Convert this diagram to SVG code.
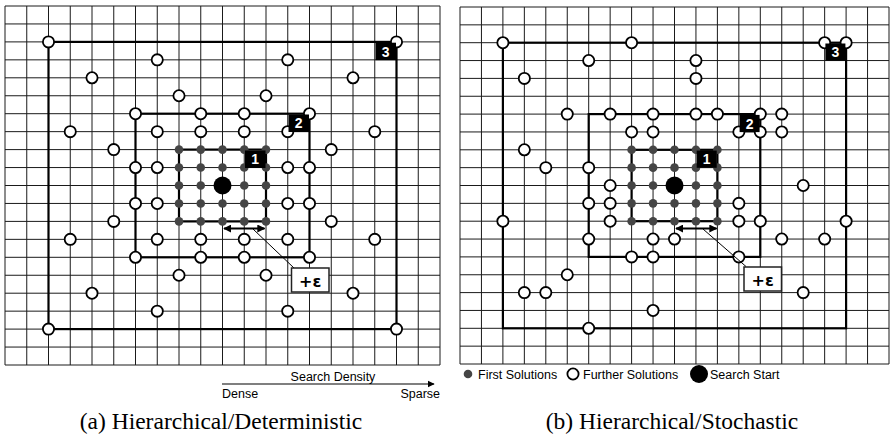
<svg xmlns="http://www.w3.org/2000/svg" width="892" height="439" viewBox="0 0 892 439">
<style>
.grid{fill:none;stroke:#1a1a1a;stroke-width:1}
.box{fill:none;stroke:#000;stroke-width:2.2}
.open{fill:#fff;stroke:#000;stroke-width:1.8}
.first{fill:#454545}
.start{fill:#000}
.lbl rect{fill:#000}
.lbl text{fill:#fff;font-family:"Liberation Sans",Arial,sans-serif;font-weight:bold;font-size:14px;text-anchor:middle}
.eps rect{fill:#fff;stroke:#222;stroke-width:1.5}
.eps text{fill:#000;font-family:"DejaVu Sans","Liberation Sans",sans-serif;font-weight:bold;font-size:16px;text-anchor:middle}
.lead{stroke:#000;stroke-width:1;fill:none}
.dbl{stroke:#000;stroke-width:2;fill:none;marker-start:url(#ah);marker-end:url(#ah)}
.small{font-family:"Liberation Sans",Arial,sans-serif;font-size:12.5px;fill:#000}
.cap{font-family:"Liberation Serif","Times New Roman",serif;font-size:23.5px;fill:#000;text-anchor:middle}
</style>
<defs>
<marker id="ah" viewBox="0 0 10 10" refX="9" refY="5" markerWidth="4" markerHeight="4" orient="auto-start-reverse" markerUnits="strokeWidth">
<path d="M0,0 L10,5 L0,10 Z" fill="#000"/>
</marker>
<marker id="ah2" viewBox="0 0 10 10" refX="9" refY="5" markerWidth="6" markerHeight="6" orient="auto" markerUnits="strokeWidth">
<path d="M0,0 L10,5 L0,10 Z" fill="#000"/>
</marker>
</defs>
<rect width="892" height="439" fill="#fff"/>

<!-- ============ LEFT PANEL ============ -->
<g id="panel-a">
<g id="grid-a" class="grid">
<path d="M5,6V365M26.75,6V365M48.5,6V365M70.25,6V365M92,6V365M113.75,6V365M135.5,6V365M157.25,6V365M179,6V365M200.75,6V365M222.5,6V365M244.25,6V365M266,6V365M287.75,6V365M309.5,6V365M331.25,6V365M353,6V365M374.75,6V365M396.5,6V365M418.25,6V365M440,6V365"/>
<path d="M5,6H440M5,23.95H440M5,41.9H440M5,59.85H440M5,77.8H440M5,95.75H440M5,113.7H440M5,131.65H440M5,149.6H440M5,167.55H440M5,185.5H440M5,203.45H440M5,221.4H440M5,239.35H440M5,257.3H440M5,275.25H440M5,293.2H440M5,311.15H440M5,329.1H440M5,347.05H440M5,365H440"/>
</g>
<g id="boxes-a" class="box">
<rect x="179" y="149.6" width="87" height="71.8"/>
<rect x="135.5" y="113.7" width="174" height="143.6"/>
<rect x="48.5" y="41.9" width="348" height="287.2"/>
</g>
<g id="first-a" class="first">
<circle cx="179" cy="149.6" r="4.3"/><circle cx="200.75" cy="149.6" r="4.3"/><circle cx="222.5" cy="149.6" r="4.3"/><circle cx="244.25" cy="149.6" r="4.3"/><circle cx="266" cy="149.6" r="4.3"/>
<circle cx="179" cy="167.55" r="4.3"/><circle cx="200.75" cy="167.55" r="4.3"/><circle cx="222.5" cy="167.55" r="4.3"/><circle cx="244.25" cy="167.55" r="4.3"/><circle cx="266" cy="167.55" r="4.3"/>
<circle cx="179" cy="185.5" r="4.3"/><circle cx="200.75" cy="185.5" r="4.3"/><circle cx="244.25" cy="185.5" r="4.3"/><circle cx="266" cy="185.5" r="4.3"/>
<circle cx="179" cy="203.45" r="4.3"/><circle cx="200.75" cy="203.45" r="4.3"/><circle cx="222.5" cy="203.45" r="4.3"/><circle cx="244.25" cy="203.45" r="4.3"/><circle cx="266" cy="203.45" r="4.3"/>
<circle cx="179" cy="221.4" r="4.3"/><circle cx="200.75" cy="221.4" r="4.3"/><circle cx="222.5" cy="221.4" r="4.3"/><circle cx="244.25" cy="221.4" r="4.3"/><circle cx="266" cy="221.4" r="4.3"/>
</g>
<g id="start-a"><circle class="start" cx="222.5" cy="185.5" r="9"/></g>
<g id="further-a" class="open">
<circle cx="48.5" cy="41.9" r="5.6"/><circle cx="396.5" cy="41.9" r="5.6"/><circle cx="48.5" cy="329.1" r="5.6"/><circle cx="396.5" cy="329.1" r="5.6"/>
<circle cx="157.25" cy="59.85" r="5.6"/><circle cx="287.75" cy="59.85" r="5.6"/>
<circle cx="92" cy="77.8" r="5.6"/><circle cx="353" cy="77.8" r="5.6"/>
<circle cx="179" cy="95.75" r="5.6"/><circle cx="266" cy="95.75" r="5.6"/>
<circle cx="135.5" cy="113.7" r="5.6"/><circle cx="200.75" cy="113.7" r="5.6"/><circle cx="244.25" cy="113.7" r="5.6"/><circle cx="309.5" cy="113.7" r="5.6"/>
<circle cx="70.25" cy="131.65" r="5.6"/><circle cx="157.25" cy="131.65" r="5.6"/><circle cx="200.75" cy="131.65" r="5.6"/><circle cx="244.25" cy="131.65" r="5.6"/><circle cx="287.75" cy="131.65" r="5.6"/><circle cx="374.75" cy="131.65" r="5.6"/>
<circle cx="113.75" cy="149.6" r="5.6"/><circle cx="331.25" cy="149.6" r="5.6"/>
<circle cx="135.5" cy="167.55" r="5.6"/><circle cx="157.25" cy="167.55" r="5.6"/><circle cx="287.75" cy="167.55" r="5.6"/><circle cx="309.5" cy="167.55" r="5.6"/>
<circle cx="135.5" cy="203.45" r="5.6"/><circle cx="157.25" cy="203.45" r="5.6"/><circle cx="287.75" cy="203.45" r="5.6"/><circle cx="309.5" cy="203.45" r="5.6"/>
<circle cx="113.75" cy="221.4" r="5.6"/><circle cx="331.25" cy="221.4" r="5.6"/>
<circle cx="70.25" cy="239.35" r="5.6"/><circle cx="157.25" cy="239.35" r="5.6"/><circle cx="200.75" cy="239.35" r="5.6"/><circle cx="244.25" cy="239.35" r="5.6"/><circle cx="287.75" cy="239.35" r="5.6"/><circle cx="374.75" cy="239.35" r="5.6"/>
<circle cx="135.5" cy="257.3" r="5.6"/><circle cx="200.75" cy="257.3" r="5.6"/><circle cx="244.25" cy="257.3" r="5.6"/><circle cx="309.5" cy="257.3" r="5.6"/>
<circle cx="179" cy="275.25" r="5.6"/><circle cx="266" cy="275.25" r="5.6"/>
<circle cx="92" cy="293.2" r="5.6"/><circle cx="353" cy="293.2" r="5.6"/>
<circle cx="157.25" cy="311.15" r="5.6"/><circle cx="287.75" cy="311.15" r="5.6"/>
</g>
<g id="label1-a" class="lbl"><rect x="245" y="150.5" width="20.5" height="17.5"/><text x="255.2" y="164.3">1</text></g>
<g id="label2-a" class="lbl"><rect x="288.5" y="114.5" width="20.5" height="17.5"/><text x="298.7" y="128.3">2</text></g>
<g id="label3-a" class="lbl"><rect x="375.5" y="42.7" width="20.5" height="17.5"/><text x="385.7" y="56.5">3</text></g>
<g id="epsilon-a">
<path class="dbl" d="M224,228.5H264.5"/>
<path class="lead" d="M253,229L294,268"/>
<g class="eps"><rect x="291.5" y="268" width="37.5" height="24"/><text x="310.2" y="286.5">+ε</text></g>
</g>
<g id="density-axis">
<path d="M222,384H434" stroke="#000" stroke-width="1.2" marker-end="url(#ah2)"/>
<text class="small" x="333" y="381" text-anchor="middle">Search Density</text>
<text class="small" x="222" y="398">Dense</text>
<text class="small" x="440" y="398" text-anchor="end">Sparse</text>
</g>
<text class="cap" x="221" y="429">(a) Hierarchical/Deterministic</text>
</g>

<!-- ============ RIGHT PANEL ============ -->
<g id="panel-b">
<g id="grid-b" class="grid">
<path d="M460,7V364M481.45,7V364M502.9,7V364M524.35,7V364M545.8,7V364M567.25,7V364M588.7,7V364M610.15,7V364M631.6,7V364M653.05,7V364M674.5,7V364M695.95,7V364M717.4,7V364M738.85,7V364M760.3,7V364M781.75,7V364M803.2,7V364M824.65,7V364M846.1,7V364M867.55,7V364M889,7V364"/>
<path d="M460,7H889M460,24.85H889M460,42.7H889M460,60.55H889M460,78.4H889M460,96.25H889M460,114.1H889M460,131.95H889M460,149.8H889M460,167.65H889M460,185.5H889M460,203.35H889M460,221.2H889M460,239.05H889M460,256.9H889M460,274.75H889M460,292.6H889M460,310.45H889M460,328.3H889M460,346.15H889M460,364H889"/>
</g>
<g id="boxes-b" class="box">
<rect x="631.6" y="149.8" width="85.8" height="71.4"/>
<rect x="588.7" y="114.1" width="171.6" height="142.8"/>
<rect x="502.9" y="42.7" width="343.2" height="285.6"/>
</g>
<g id="first-b" class="first">
<circle cx="631.6" cy="149.8" r="4.3"/><circle cx="653.05" cy="149.8" r="4.3"/><circle cx="674.5" cy="149.8" r="4.3"/><circle cx="695.95" cy="149.8" r="4.3"/><circle cx="717.4" cy="149.8" r="4.3"/>
<circle cx="631.6" cy="167.65" r="4.3"/><circle cx="653.05" cy="167.65" r="4.3"/><circle cx="674.5" cy="167.65" r="4.3"/><circle cx="695.95" cy="167.65" r="4.3"/><circle cx="717.4" cy="167.65" r="4.3"/>
<circle cx="631.6" cy="185.5" r="4.3"/><circle cx="653.05" cy="185.5" r="4.3"/><circle cx="695.95" cy="185.5" r="4.3"/><circle cx="717.4" cy="185.5" r="4.3"/>
<circle cx="631.6" cy="203.35" r="4.3"/><circle cx="653.05" cy="203.35" r="4.3"/><circle cx="674.5" cy="203.35" r="4.3"/><circle cx="695.95" cy="203.35" r="4.3"/><circle cx="717.4" cy="203.35" r="4.3"/>
<circle cx="631.6" cy="221.2" r="4.3"/><circle cx="653.05" cy="221.2" r="4.3"/><circle cx="674.5" cy="221.2" r="4.3"/><circle cx="695.95" cy="221.2" r="4.3"/><circle cx="717.4" cy="221.2" r="4.3"/>
</g>
<g id="start-b"><circle class="start" cx="674.5" cy="185.5" r="9"/></g>
<g id="further-b" class="open">
<circle cx="502.9" cy="42.7" r="5.6"/><circle cx="631.6" cy="42.7" r="5.6"/><circle cx="824.65" cy="42.7" r="5.6"/><circle cx="846.1" cy="42.7" r="5.6"/>
<circle cx="588.7" cy="60.55" r="5.6"/><circle cx="695.95" cy="60.55" r="5.6"/>
<circle cx="524.35" cy="78.4" r="5.6"/><circle cx="695.95" cy="78.4" r="5.6"/>
<circle cx="567.25" cy="114.1" r="5.6"/><circle cx="610.15" cy="114.1" r="5.6"/><circle cx="653.05" cy="114.1" r="5.6"/><circle cx="695.95" cy="114.1" r="5.6"/><circle cx="717.4" cy="114.1" r="5.6"/><circle cx="760.3" cy="114.1" r="5.6"/><circle cx="781.75" cy="114.1" r="5.6"/>
<circle cx="631.6" cy="131.95" r="5.6"/><circle cx="653.05" cy="131.95" r="5.6"/><circle cx="738.85" cy="131.95" r="5.6"/><circle cx="760.3" cy="131.95" r="5.6"/><circle cx="781.75" cy="131.95" r="5.6"/>
<circle cx="524.35" cy="149.8" r="5.6"/>
<circle cx="545.8" cy="167.65" r="5.6"/><circle cx="588.7" cy="167.65" r="5.6"/>
<circle cx="610.15" cy="185.5" r="5.6"/><circle cx="803.2" cy="185.5" r="5.6"/>
<circle cx="588.7" cy="203.35" r="5.6"/><circle cx="610.15" cy="203.35" r="5.6"/><circle cx="738.85" cy="203.35" r="5.6"/>
<circle cx="502.9" cy="221.2" r="5.6"/><circle cx="610.15" cy="221.2" r="5.6"/><circle cx="738.85" cy="221.2" r="5.6"/><circle cx="760.3" cy="221.2" r="5.6"/><circle cx="846.1" cy="221.2" r="5.6"/>
<circle cx="588.7" cy="239.05" r="5.6"/><circle cx="653.05" cy="239.05" r="5.6"/><circle cx="674.5" cy="239.05" r="5.6"/><circle cx="781.75" cy="239.05" r="5.6"/><circle cx="824.65" cy="239.05" r="5.6"/>
<circle cx="631.6" cy="256.9" r="5.6"/><circle cx="653.05" cy="256.9" r="5.6"/><circle cx="738.85" cy="256.9" r="5.6"/>
<circle cx="567.25" cy="274.75" r="5.6"/>
<circle cx="524.35" cy="292.6" r="5.6"/><circle cx="545.8" cy="292.6" r="5.6"/><circle cx="803.2" cy="292.6" r="5.6"/>
<circle cx="653.05" cy="310.45" r="5.6"/>
<circle cx="588.7" cy="328.3" r="5.6"/>
</g>
<g id="label1-b" class="lbl"><rect x="696.7" y="150.6" width="20" height="17.2"/><text x="706.7" y="164.3">1</text></g>
<g id="label2-b" class="lbl"><rect x="739.6" y="114.9" width="20" height="17.2"/><text x="749.6" y="128.6">2</text></g>
<g id="label3-b" class="lbl"><rect x="825.4" y="43.5" width="20" height="17.2"/><text x="835.4" y="57.2">3</text></g>
<g id="epsilon-b">
<path class="dbl" d="M676,228.5H716.5"/>
<path class="lead" d="M703,229L746,266.5"/>
<g class="eps"><rect x="744" y="267" width="37.5" height="24"/><text x="762.7" y="285.5">+ε</text></g>
</g>
<g id="legend-b">
<circle class="first" cx="468" cy="374" r="4.3"/>
<text class="small" x="478" y="378.5">First Solutions</text>
<circle class="open" cx="573" cy="374" r="5.6"/>
<text class="small" x="583" y="378.5">Further Solutions</text>
<circle class="start" cx="699" cy="374" r="9"/>
<text class="small" x="710" y="378.5">Search Start</text>
</g>
<text class="cap" x="672" y="429">(b) Hierarchical/Stochastic</text>
</g>
</svg>
